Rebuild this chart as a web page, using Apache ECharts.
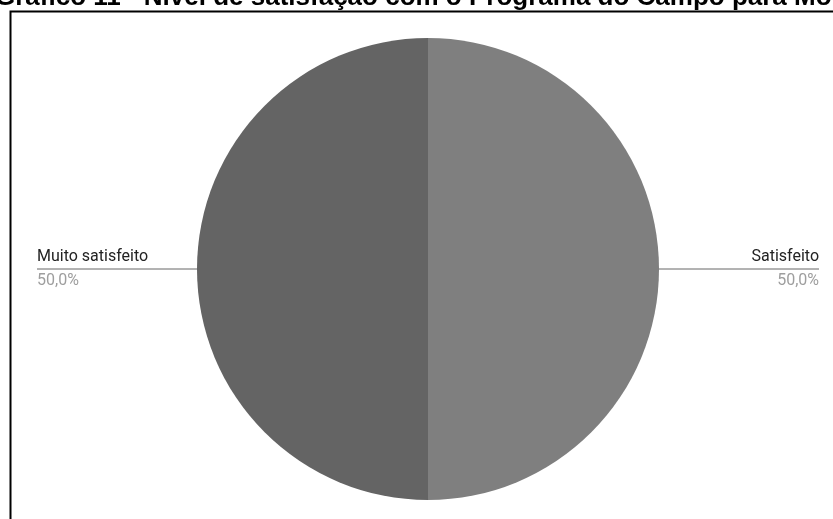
<!DOCTYPE html>
<html>
<head>
<meta charset="utf-8">
<style>
  html, body { margin: 0; padding: 0; background: #ffffff; }
  #chart { width: 833px; height: 519px; }
</style>
<script src="https://cdn.jsdelivr.net/npm/echarts@6/dist/echarts.min.js"></script>
</head>
<body>
<div id="chart"></div>
<script>
// ---- data ----
const categories = ['Satisfeito', 'Muito satisfeito'];
const values = [50, 50];
const sliceColors = ['#7f7f7f', '#646464'];
const titleText = 'Gráfico 11 - Nível de satisfação com o Programa do Campo para Mo';

const labelFont = '16px Roboto';
const measureCtx = document.createElement('canvas').getContext('2d');
measureCtx.font = labelFont;
function textWidth(t) { return measureCtx.measureText(t).width; }
function pctText(v, total) { return (v / total * 100).toFixed(1).replace('.', ',') + '%'; }
const total = values.reduce((a, b) => a + b, 0);

const pieData = categories.map((name, i) => {
  const w = Math.max(textWidth(name), textWidth(pctText(values[i], total)));
  return {
    name: name,
    value: values[i],
    itemStyle: { color: sliceColors[i] },
    label: { distanceToLabelLine: -w }
  };
});

const chart = echarts.init(document.getElementById('chart'), null, { renderer: 'canvas' });
chart.setOption({
  backgroundColor: '#ffffff',
  animation: false,
  graphic: [
    {
      type: 'text', x: -5, y: 11, z: 10,
      style: { text: titleText, font: 'bold 26px "Liberation Sans"', fill: '#000000', verticalAlign: 'bottom' }
    },
    {
      type: 'rect', z: 9,
      shape: { x: 10.5, y: 11.5, width: 900, height: 600 },
      style: { fill: 'none', stroke: '#000000', lineWidth: 2 }
    }
  ],
  series: [{
    type: 'pie',
    left: 23, right: 0, top: 0, bottom: 0,
    center: [405, 269],
    radius: 231,
    startAngle: 90,
    clockwise: true,
    itemStyle: { borderWidth: 0 },
    emphasis: { disabled: true },
    label: {
      show: true,
      position: 'outer',
      alignTo: 'edge',
      edgeDistance: 14,
      formatter: function (p) {
        return '{n|' + p.name + '}\n{p|' + pctText(p.value, total) + '}';
      },
      rich: {
        n: { fontFamily: 'Roboto', fontSize: 16, color: '#222222', lineHeight: 24 },
        p: { fontFamily: 'Roboto', fontSize: 16, color: '#9e9e9e', lineHeight: 24 }
      }
    },
    labelLine: {
      show: true,
      length: 10,
      length2: 10,
      lineStyle: { color: '#666666', width: 1 }
    },
    data: pieData
  }]
});
</script>
</body>
</html>
